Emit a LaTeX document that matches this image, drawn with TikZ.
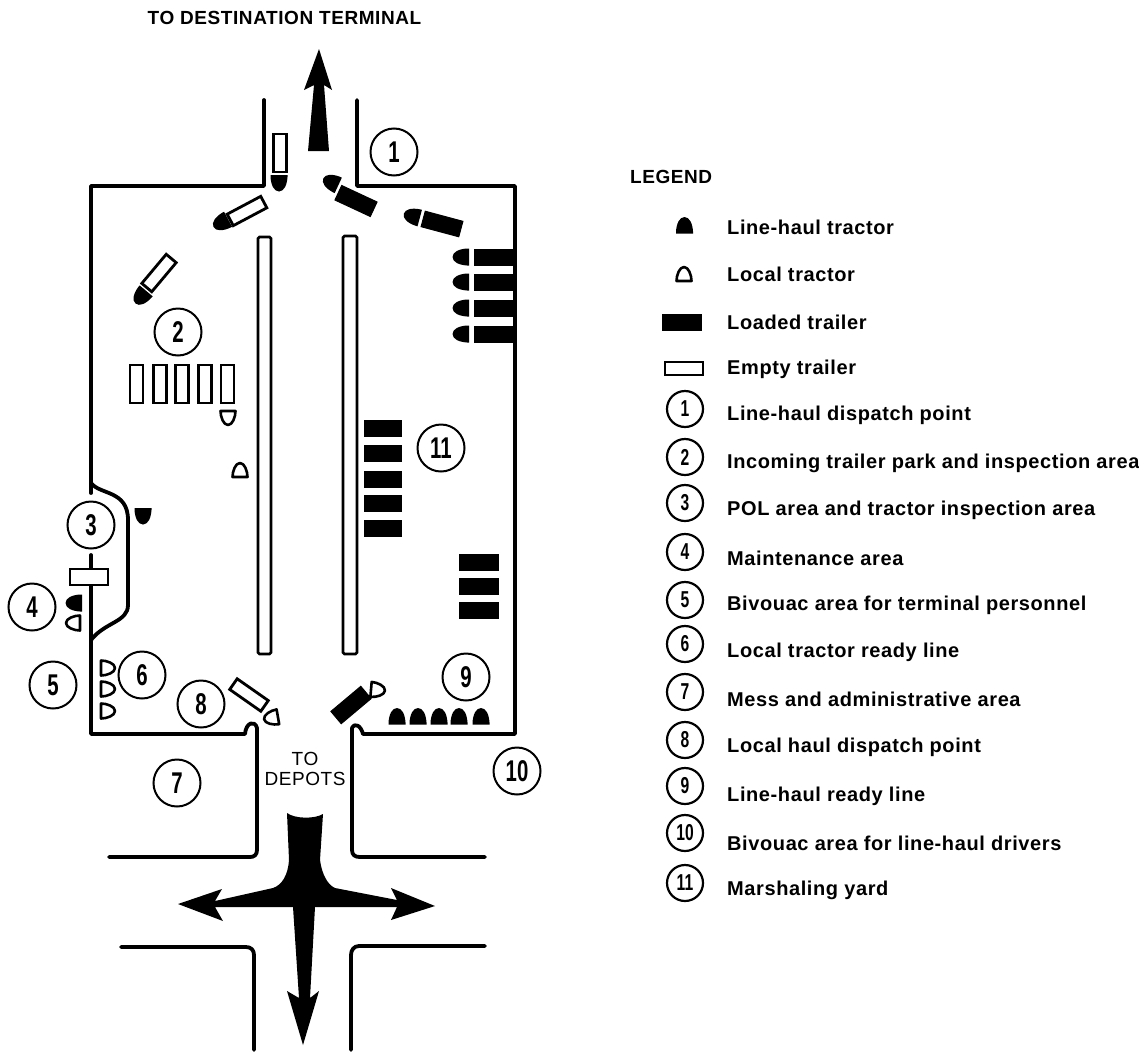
\documentclass[tikz,border=0pt]{standalone}
\usepackage{fontspec}
\setmainfont{Liberation Sans}
\newfontfamily\digitfont[FakeStretch=0.68]{Liberation Sans}
\newfontfamily\legendfont[LetterSpace=3]{Liberation Sans}
\usetikzlibrary{positioning}

\tikzset{
  wall/.style={line width=3.8pt, line join=round, line cap=round},
  median/.style={draw, line width=2.6pt, fill=white, rounded corners=1.5pt},
  loadedtrl/.style={rectangle, fill=black, draw=black, line width=1pt, inner sep=0pt, minimum width=39pt, minimum height=16pt},
  emptytrl/.style={rectangle, fill=white, draw=black, line width=2.8pt, inner sep=0pt, minimum width=38pt, minimum height=13pt},
  numcirc/.style={circle, draw, line width=2pt, inner sep=0pt, minimum size=47pt, font=\digitfont\bfseries\fontsize{30}{30}\selectfont},
  keycirc/.style={circle, draw, line width=2.2pt, inner sep=0pt, minimum size=36pt, font=\digitfont\bfseries\fontsize{23}{23}\selectfont},
  keytext/.style={anchor=west, inner sep=0pt, font=\legendfont\bfseries\fontsize{20}{20}\selectfont},
  captext/.style={inner sep=0pt, font=\legendfont\bfseries\fontsize{19}{20}\selectfont},
  linetractor/.pic={
    \fill (-8.5,8) -- (8.5,8) -- (8.5,6) .. controls (8,-2) and (5,-8.5) .. (0,-8.5)
      .. controls (-5,-8.5) and (-8,-2) .. (-8.5,6) -- cycle;
  },
  localtractor/.pic={
    \draw[line width=2.6pt, fill=white, line join=round] (-7.5,7) -- (7.5,7) .. controls (7.5,1) and (4.5,-7) .. (0,-7)
      .. controls (-4.5,-7) and (-7.5,1) .. (-7.5,7) -- cycle;
  },
}

\begin{document}
\begin{tikzpicture}[x=1pt,y=-1pt]
  \useasboundingbox (0,0) rectangle (1139,1052);

  % yard outline
  \draw[wall] (264,100) -- (264,186) -- (91,186) -- (91,493);
  \draw[wall] (357,100) -- (357,186) -- (515,186) -- (515,734) -- (363,734)
    .. controls (361,726) and (355,722) .. (352,728) -- (352,850)
    .. controls (352,855) and (355,857) .. (360,857) -- (485,857);
  \draw[wall] (91,555) -- (91,569);
  \draw[wall] (91,585) -- (91,734) -- (245,734)
    .. controls (246,722) and (255,720) .. (257,728) -- (257,850)
    .. controls (257,855) and (254,857) .. (250,857) -- (109,857);
  \draw[wall] (91,483) .. controls (100,495) and (128,490) .. (128,520) -- (128,605)
    .. controls (128,622) and (105,622) .. (91,640);
  \draw[wall] (121,947) -- (246,947) .. controls (251,947) and (254,950) .. (254,955) -- (254,1050);
  \draw[wall] (485,946) -- (359,946) .. controls (354,946) and (351,950) .. (351,955) -- (351,1050);
  \draw[line width=2.8pt, fill=white] (70,569) rectangle (108,585);

  % medians
  \path[median] (258,237) rectangle (271,654);
  \path[median] (343,236) rectangle (357,654);

  % traffic arrows
  \fill (319,49) -- (332,90) -- (324,85) -- (329,151) -- (308,151) -- (314,85) -- (304,90) -- cycle;
  \fill (287,813) .. controls (295,819) and (315,819) .. (323,814) -- (320,860)
    .. controls (322,875) and (328,885) .. (335,888) -- (397,900) -- (391,888) -- (435,906)
    -- (391,920) -- (397,907) -- (315,907) -- (310,998) -- (319,991) -- (303,1045) -- (287,991)
    -- (299,998) -- (293,907) -- (215,907) -- (223,921) -- (178,904) -- (222,889) -- (215,901)
    -- (273,888) .. controls (282,885) and (288,875) .. (289,860) -- cycle;

  % outgoing trailers at the top
  \node[emptytrl, rotate=90, minimum width=38pt] (e1) at (280,153) {};
  \pic[rotate=180] at (279,183) {linetractor};
  \node[emptytrl, rotate=28] (e2) at (247,211) {};
  \pic[rotate=118] at (221,223) {linetractor};
  \node[emptytrl, rotate=50] (e3) at (159,273) {};
  \pic[rotate=140] at (141,297) {linetractor};
  \node[loadedtrl, rotate=-25] (l1) at (356,201) {};
  \pic[rotate=65] at (331,182) {linetractor};
  \node[loadedtrl, rotate=-15] (l2) at (442,224) {};
  \pic[rotate=75] at (412,216) {linetractor};

  % loaded trailers at the right wall
  \foreach \yy [count=\i] in {257,282,308,334} {
    \node[loadedtrl, minimum width=41pt, minimum height=16pt] (r\i) at (494.5,\yy) {};
    \pic[rotate=90] at (461,\yy) {linetractor};
  }

  % incoming trailer park
  \foreach \xx [count=\i] in {136.5,160,182,205,227.5} {
    \node[emptytrl, rotate=90] (p\i) at (\xx,384) {};
  }
  \pic[rotate=180] at (228,418) {localtractor};
  \pic at (240,470) {localtractor};
  \pic[rotate=180] at (143,516) {linetractor};

  % marshaling yard
  \foreach \yy [count=\i] in {428,453,479,503,528} {
    \node[loadedtrl, minimum width=37pt] (m\i) at (382.5,\yy) {};
  }
  \foreach \yy [count=\i] in {562.5,586,610} {
    \node[loadedtrl] (n\i) at (478.5,\yy) {};
  }

  % maintenance and ready lines
  \pic[rotate=90] at (74,603) {linetractor};
  \pic[rotate=90] at (73,623) {localtractor};
  \foreach \yy in {668,689,711} {
    \pic[rotate=-90] at (108,\yy) {localtractor};
  }
  \foreach \xx in {397,418,439,459,481} {
    \pic at (\xx,716.5) {linetractor};
  }

  % local haul dispatch
  \node[emptytrl, rotate=-35] (e4) at (249,695) {};
  \pic[rotate=100] at (271,718) {localtractor};
  \node[loadedtrl, rotate=40] (l3) at (351,705) {};
  \pic[rotate=-95] at (378,690) {localtractor};

  % area numbers
  \node[numcirc] (a1) at (394,152) {1};
  \node[numcirc] (a2) at (178,332) {2};
  \node[numcirc] (a3) at (91,525) {3};
  \node[numcirc] (a4) at (32,607) {4};
  \node[numcirc] (a5) at (53,685) {5};
  \node[numcirc] (a6) at (142,675) {6};
  \node[numcirc] (a7) at (177,783) {7};
  \node[numcirc] (a8) at (201,704) {8};
  \node[numcirc] (a9) at (466,677) {9};
  \node[numcirc] (a10) at (517,771) {10};
  \node[numcirc] (a11) at (441,448) {11};

  % captions
  \node[captext] (dest) at (284.5,18) {TO DESTINATION TERMINAL};
  \node[captext, font=\legendfont\fontsize{19}{20}\selectfont, align=center] (depots) at (305,769) {TO\\DEPOTS};

  % legend
  \node[captext, anchor=west] (legend) at (630,177) {LEGEND};
  \pic at (684.5,225.5) {linetractor};
  \pic at (684,274) {localtractor};
  \node[loadedtrl] (kl) at (681.5,322.5) {};
  \node[emptytrl] (ke) at (684,368.5) {};
  \node[keytext] (t1) at (727,227) {Line-haul tractor};
  \node[keytext] (t2) at (727,274) {Local tractor};
  \node[keytext] (t3) at (727,322) {Loaded trailer};
  \node[keytext] (t4) at (727,369) {Empty trailer};
  \foreach \num/\cy/\ty/\lab in {
    1/409/415/Line-haul dispatch point,
    2/457/463/Incoming trailer park and inspection area,
    3/503/510/POL area and tractor inspection area,
    4/552/558/Maintenance area,
    5/600/605/Bivouac area for terminal personnel,
    6/644/652/Local tractor ready line,
    7/692/699/Mess and administrative area,
    8/740/747/Local haul dispatch point,
    9/786/796/Line-haul ready line,
    10/833/843/Bivouac area for line-haul drivers,
    11/883/890/Marshaling yard} {
    \node[keycirc] (k\num) at (685,\cy) {\num};
    \node[keytext] (d\num) at (727,\ty) {\lab};
  }
\end{tikzpicture}
\end{document}
